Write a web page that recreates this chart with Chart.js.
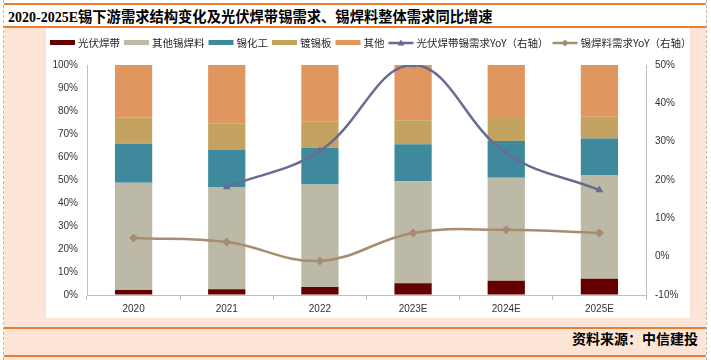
<!DOCTYPE html>
<html><head><meta charset="utf-8">
<script src="https://cdn.jsdelivr.net/npm/chart.js@4"></script>
<style>
html,body{margin:0;padding:0;background:#fff;width:711px;height:360px;overflow:hidden;}
.abs{position:absolute;}
#frame{left:3px;top:0;width:702px;height:360px;border-left:1px dashed #b8b8b8;border-right:1px dashed #b8b8b8;}
#pink{left:4px;top:28px;width:702px;height:332px;background:#fce4d6;}
#white{left:46px;top:28px;width:644px;height:290px;background:#fff;}
.oline{left:4px;width:702px;height:2px;background:#ed7d31;}
#title{left:8px;top:5px;height:22px;line-height:22px;font-family:"Liberation Serif","Noto Sans CJK SC",serif;font-weight:bold;font-size:14px;color:#000;white-space:nowrap;}
#title .cn{font-family:"Noto Sans CJK SC",sans-serif;font-size:14.3px;}
#src{right:13px;top:328px;height:20px;line-height:20px;font-family:"Noto Sans CJK SC",sans-serif;font-weight:bold;font-size:14px;color:#000;}
canvas{position:absolute;left:46px;top:28px;}
</style></head>
<body>
<div id="pink" class="abs"></div>
<div id="white" class="abs"></div>
<div id="frame" class="abs"></div>
<div class="abs oline" style="top:3px"></div>
<div class="abs oline" style="top:26px"></div>
<div class="abs oline" style="top:327px"></div>
<div class="abs oline" style="top:355px"></div>
<div id="title" class="abs">2020-2025E<span class="cn">锡下游需求结构变化及光伏焊带锡需求、锡焊料整体需求同比增速</span></div>
<div id="src" class="abs">资料来源：中信建投</div>
<canvas id="c" width="644" height="290"></canvas>
<script>
const categories = ['2020','2021','2022','2023E','2024E','2025E'];
const pvRibbon   = [2.2, 2.5, 3.5, 5.1, 6.2, 7.1];
const otherSolder= [46.6, 44.5, 44.5, 44.4, 44.8, 44.9];
const tinChem    = [17.0, 16.0, 16.0, 16.0, 16.0, 16.0];
const tinPlate   = [11.5, 11.5, 11.5, 10.5, 10.0, 9.5];
const others     = [22.7, 25.5, 24.5, 24.0, 23.0, 22.5];
const pvYoY      = [null, 18.2, 27.6, 50.0, 27.0, 17.4];
const solderYoY  = [4.9, 3.8, -1.1, 6.2, 7.0, 6.2];
const leftTicks  = {min:0, max:100, step:10};
const rightTicks = {min:-10, max:50, step:10};

const tickFont = {family:'"Liberation Sans", Arial, sans-serif', size:10};
const tickColor = '#333333';
const axisColor = '#bfbfbf';

const legendPlugin = {
  id:'customLegend',
  afterDraw(chart){
    const ctx = chart.ctx;
    ctx.save();
    ctx.font = '10.5px "Noto Sans CJK SC", sans-serif';
    ctx.textBaseline = 'middle';
    ctx.fillStyle = '#262626';
    let x = 4; const y = 15;
    chart.data.datasets.forEach(ds => {
      if (ds.type === 'line') {
        ctx.strokeStyle = ds.borderColor; ctx.lineWidth = 2.5;
        ctx.beginPath(); ctx.moveTo(x, y); ctx.lineTo(x+25, y); ctx.stroke();
        ctx.fillStyle = ds.borderColor;
        const cx = x+12.5, r = 3.5;
        ctx.beginPath();
        if (ds.pointStyle === 'triangle') {
          ctx.moveTo(cx, y-r); ctx.lineTo(cx+r, y+r*0.7); ctx.lineTo(cx-r, y+r*0.7);
        } else {
          ctx.moveTo(cx, y-r); ctx.lineTo(cx+r, y); ctx.lineTo(cx, y+r); ctx.lineTo(cx-r, y);
        }
        ctx.closePath(); ctx.fill();
      } else {
        ctx.fillStyle = ds.backgroundColor;
        ctx.fillRect(x, y-3, 25, 5);
      }
      x += 28;
      ctx.fillStyle = '#262626';
      ctx.fillText(ds.label, x, y);
      x += ctx.measureText(ds.label).width + 4;
    });
    ctx.restore();
  }
};

const barDs = (label, data, color) => ({type:'bar', label, data, backgroundColor:color, yAxisID:'y', stack:'s', order:2, barPercentage:0.4, categoryPercentage:1});

new Chart(document.getElementById('c'), {
  data:{
    labels: categories,
    datasets:[
      barDs('光伏焊带', pvRibbon, '#660000'),
      barDs('其他锡焊料', otherSolder, '#bcb9a7'),
      barDs('锡化工', tinChem, '#3e8a9c'),
      barDs('镀锡板', tinPlate, '#c3a35f'),
      barDs('其他', others, '#e0975f'),
      {type:'line', label:'光伏焊带锡需求YoY（右轴）', data:pvYoY, yAxisID:'y1', order:0,
        borderColor:'#676c92', backgroundColor:'#676c92', borderWidth:2.5, tension:0.4,
        pointStyle:'triangle', pointRadius:4.5, pointBackgroundColor:'#676c92', pointBorderWidth:0},
      {type:'line', label:'锡焊料需求YoY（右轴）', data:solderYoY, yAxisID:'y1', order:1,
        borderColor:'#a88c70', backgroundColor:'#a88c70', borderWidth:2.5, tension:0.4,
        pointStyle:'rectRot', pointRadius:4.5, pointBackgroundColor:'#a88c70', pointBorderWidth:0}
    ]
  },
  options:{
    responsive:false, animation:false, devicePixelRatio:1,
    layout:{padding:{top:37, left:0, right:0, bottom:0}},
    plugins:{legend:{display:false}, tooltip:{enabled:false}},
    scales:{
      x:{stacked:true, offset:true,
        grid:{display:true, drawOnChartArea:false, drawTicks:true, tickLength:5, color:axisColor, offset:true},
        border:{color:axisColor},
        ticks:{font:tickFont, color:tickColor, padding:3, maxRotation:0},
        afterFit(s){ s.height = 23; }
      },
      y:{stacked:true, position:'left', min:leftTicks.min, max:leftTicks.max,
        ticks:{stepSize:leftTicks.step, callback:v=>v+'%', font:tickFont, color:tickColor, padding:9},
        grid:{display:true, drawOnChartArea:false, drawTicks:false},
        border:{display:true, color:axisColor},
        afterFit(s){ s.width = 41; }
      },
      y1:{stacked:false, position:'right', min:rightTicks.min, max:rightTicks.max,
        ticks:{stepSize:rightTicks.step, callback:v=>v+'%', font:tickFont, color:tickColor, padding:9},
        grid:{display:true, drawOnChartArea:false, drawTicks:false},
        border:{display:true, color:axisColor},
        afterFit(s){ s.width = 44; }
      }
    }
  },
  plugins:[legendPlugin]
});
</script>
</body></html>
